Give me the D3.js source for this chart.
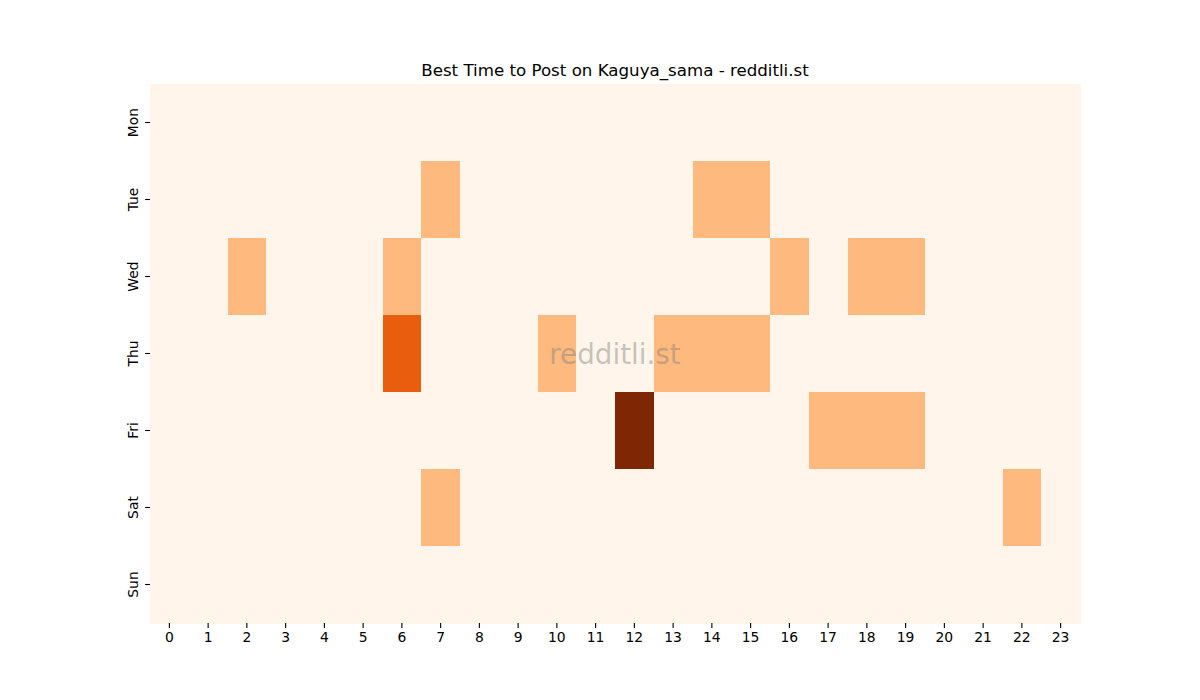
<!DOCTYPE html>
<html><head><meta charset="utf-8">
<script src="https://cdn.jsdelivr.net/npm/d3@7"></script>
<style>body{margin:0;background:#fff;}svg{display:block;font-family:"DejaVu Sans",sans-serif;}</style>
</head><body><svg id="c" width="1200" height="700"></svg>
<script>
const days = ["Mon","Tue","Wed","Thu","Fri","Sat","Sun"];
const hours = d3.range(24).map(String);
const monVals = [0,0,0,0,0,0,0,0,0,0,0,0,0,0,0,0,0,0,0,0,0,0,0,0];
const tueVals = [0,0,0,0,0,0,0,1,0,0,0,0,0,0,1,1,0,0,0,0,0,0,0,0];
const wedVals = [0,0,1,0,0,0,1,0,0,0,0,0,0,0,0,0,1,0,1,1,0,0,0,0];
const thuVals = [0,0,0,0,0,0,2,0,0,0,1,0,0,1,1,1,0,0,0,0,0,0,0,0];
const friVals = [0,0,0,0,0,0,0,0,0,0,0,0,3,0,0,0,0,1,1,1,0,0,0,0];
const satVals = [0,0,0,0,0,0,0,1,0,0,0,0,0,0,0,0,0,0,0,0,0,0,1,0];
const sunVals = [0,0,0,0,0,0,0,0,0,0,0,0,0,0,0,0,0,0,0,0,0,0,0,0];
const rows = [monVals,tueVals,wedVals,thuVals,friVals,satVals,sunVals];
const title = "Best Time to Post on Kaguya_sama - redditli.st";
const watermark = "redditli.st";

const svg = d3.select("#c");
const L=150,R=1080,T=84,B=623;
const x = d3.scaleBand().domain(hours).range([L,R]);
const y = d3.scaleBand().domain(days).range([T,B]);
const maxV = d3.max(rows.flat());
const color = d3.scaleSequential(d3.interpolateOranges).domain([0,maxV]);

const cells = [];
rows.forEach((r,i)=>r.forEach((v,j)=>cells.push({day:days[i],hour:hours[j],v})));
svg.append("g").selectAll("rect").data(cells).join("rect")
  .attr("x",d=>x(d.hour)).attr("y",d=>y(d.day))
  .attr("width",x.bandwidth()+0.5).attr("height",y.bandwidth()+0.5)
  .attr("fill",d=>color(d.v)).attr("shape-rendering","crispEdges");

const xa = svg.append("g").attr("transform",`translate(0,${B})`)
  .call(d3.axisBottom(x).tickSize(4.9).tickPadding(4));
xa.select(".domain").remove();
xa.selectAll("text").attr("font-size","13.9px").attr("fill","#000").attr("font-family","DejaVu Sans");
xa.selectAll("line").attr("stroke","#000").attr("stroke-width",1.1);

const ya = svg.append("g").attr("transform",`translate(${L},0)`)
  .call(d3.axisLeft(y).tickSize(4.9).tickPadding(4));
ya.select(".domain").remove();
ya.selectAll("line").attr("stroke","#000").attr("stroke-width",1.1);
ya.selectAll("text").attr("font-size","13.9px").attr("fill","#000").attr("font-family","DejaVu Sans")
  .attr("x",null).attr("dy",null)
  .attr("text-anchor","middle")
  .attr("transform","translate(-12.5,0) rotate(-90)");

svg.append("text").attr("x",(L+R)/2).attr("y",T-8).attr("text-anchor","middle")
  .attr("font-size","16.67px").attr("fill","#000").text(title);

svg.append("text").attr("x",(L+R)/2).attr("y",(T+B)/2+10).attr("text-anchor","middle")
  .attr("font-size","27.8px").attr("fill","#808080").attr("fill-opacity",0.45).text(watermark);
</script></body></html>
